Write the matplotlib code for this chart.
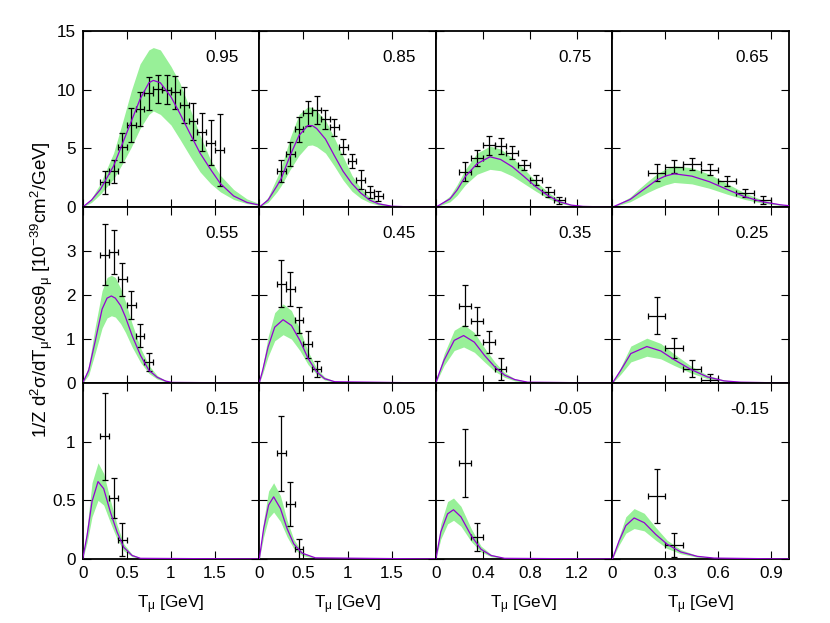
import matplotlib
matplotlib.use('Agg')
import matplotlib.pyplot as plt

plt.rcParams['font.family'] = ['Liberation Sans', 'DejaVu Sans']
plt.rcParams['mathtext.fontset'] = 'custom'
plt.rcParams['mathtext.rm'] = 'Liberation Sans'
plt.rcParams['mathtext.it'] = 'Liberation Sans'
plt.rcParams['font.size'] = 12.3

# cos(theta_mu) bin centres, one per panel
cos_labels = ['0.95', '0.85', '0.75', '0.65',
              '0.55', '0.45', '0.35', '0.25',
              '0.15', '0.05', '-0.05', '-0.15']

# MiniBooNE T_mu bin centres (GeV), half width of the bins
tmu_centres = [0.25, 0.35, 0.45, 0.55, 0.65, 0.75, 0.85, 0.95,
               1.05, 1.15, 1.25, 1.35, 1.45, 1.55]
bin_half = 0.05

# ---- data points (y, error) ----
data_095 = [2.1, 3.05, 5.1, 7.0, 8.4, 9.7, 10.1, 10.0, 9.8, 8.7, 7.3, 6.4, 5.5, 4.86]
err_095 = [0.95, 1.0, 1.25, 1.45, 1.45, 1.4, 1.2, 1.25, 1.4, 1.55, 1.55, 1.6, 1.95, 3.05]
data_085 = [3.05, 4.52, 6.65, 7.98, 8.3, 7.5, 6.8, 5.14, 3.9, 2.35, 1.3, 0.95]
err_085 = [0.93, 1.0, 1.07, 1.08, 1.18, 0.8, 0.7, 0.65, 0.6, 0.8, 0.5, 0.45]
data_075 = [3.01, 4.15, 5.28, 5.2, 4.63, 3.58, 2.3, 1.3, 0.6]
err_075 = [0.8, 0.68, 0.8, 0.67, 0.57, 0.43, 0.43, 0.4, 0.3]
data_065 = [2.95, 3.44, 3.64, 3.2, 2.24, 1.22, 0.6]
err_065 = [0.75, 0.54, 0.51, 0.47, 0.41, 0.36, 0.34]
data_055 = [2.92, 2.98, 2.36, 1.77, 1.08, 0.48]
err_055 = [0.69, 0.5, 0.38, 0.32, 0.26, 0.21]
data_045 = [2.26, 2.14, 1.44, 0.88, 0.32]
err_045 = [0.53, 0.39, 0.3, 0.3, 0.18]
data_035 = [1.76, 1.41, 0.93, 0.32]
err_035 = [0.46, 0.31, 0.25, 0.26]
data_025 = [1.53, 0.80, 0.33, 0.08]
err_025 = [0.42, 0.23, 0.19, 0.12]
data_015 = [1.046, 0.523, 0.164]
err_015 = [0.37, 0.17, 0.14]
data_005 = [0.90, 0.47, 0.083]
err_005 = [0.32, 0.19, 0.09]
data_m005 = [0.816, 0.19]
err_m005 = [0.29, 0.12]
data_m015 = [0.534, 0.118]
err_m015 = [0.23, 0.10]

# ---- model curves: T grid, central value, band upper, band lower ----
t_095 = [0, 0.1, 0.2, 0.35, 0.45, 0.55, 0.65, 0.75, 0.8, 0.88, 1.0, 1.1, 1.22, 1.33, 1.45, 1.56, 1.71, 1.86, 2.0]
mid_095 = [0, 0.6, 1.5, 3.5, 5.4, 7.3, 9.2, 10.6, 10.8, 10.6, 9.4, 8.0, 6.2, 4.6, 3.2, 2.0, 0.95, 0.4, 0.17]
hi_095 = [0, 0.75, 2.0, 4.6, 7.2, 9.9, 12.2, 13.4, 13.6, 13.4, 12.0, 10.6, 8.3, 6.1, 4.0, 2.7, 1.5, 0.7, 0.3]
lo_095 = [0, 0.4, 1.1, 2.4, 3.7, 5.1, 6.7, 7.9, 8.2, 7.9, 7.0, 5.8, 4.3, 3.0, 2.0, 1.3, 0.65, 0.3, 0.15]

t_085 = [0, 0.1, 0.2, 0.25, 0.35, 0.45, 0.55, 0.6, 0.65, 0.75, 0.85, 0.95, 1.05, 1.15, 1.25, 1.35, 1.5, 1.7, 2.0]
mid_085 = [0, 0.6, 1.8, 2.45, 4.4, 6.1, 6.95, 6.95, 6.7, 5.8, 4.4, 3.05, 2.0, 1.2, 0.6, 0.28, 0.08, 0.02, 0]
hi_085 = [0, 0.85, 2.5, 3.4, 5.9, 7.9, 8.55, 8.5, 8.2, 7.4, 5.9, 4.3, 2.7, 1.6, 0.85, 0.4, 0.12, 0.03, 0]
lo_085 = [0, 0.4, 1.3, 1.85, 3.2, 4.4, 5.25, 5.3, 5.15, 4.6, 3.5, 2.3, 1.35, 0.75, 0.38, 0.17, 0.05, 0.01, 0]

t_075 = [0, 0.12, 0.18, 0.25, 0.35, 0.46, 0.55, 0.65, 0.75, 0.85, 0.95, 1.05, 1.15, 1.25, 1.5]
mid_075 = [0, 0.7, 1.45, 2.6, 3.7, 4.29, 4.06, 3.44, 2.6, 1.73, 1.0, 0.45, 0.17, 0.06, 0]
hi_075 = [0, 0.95, 1.9, 3.2, 4.6, 5.2, 4.95, 4.2, 3.25, 2.2, 1.3, 0.6, 0.22, 0.06, 0]
lo_075 = [0, 0.45, 1.0, 1.9, 2.8, 3.22, 3.1, 2.65, 2.0, 1.35, 0.75, 0.33, 0.12, 0.04, 0]

t_065 = [0, 0.1, 0.15, 0.2, 0.25, 0.3, 0.35, 0.45, 0.55, 0.65, 0.75, 0.85, 0.95, 1.0]
mid_065 = [0, 0.65, 1.2, 1.75, 2.3, 2.65, 2.84, 2.64, 2.16, 1.5, 0.88, 0.45, 0.2, 0.12]
hi_065 = [0, 0.85, 1.55, 2.2, 2.8, 3.25, 3.52, 3.35, 2.8, 2.0, 1.2, 0.6, 0.25, 0.15]
lo_065 = [0, 0.45, 0.85, 1.25, 1.6, 1.9, 2.1, 1.98, 1.6, 1.1, 0.65, 0.33, 0.14, 0.08]

t_055 = [0, 0.068, 0.144, 0.22, 0.276, 0.325, 0.37, 0.43, 0.485, 0.56, 0.655, 0.75, 0.845, 0.94, 1.01, 2.0]
mid_055 = [0, 0.29, 0.97, 1.68, 1.93, 1.98, 1.93, 1.76, 1.5, 1.08, 0.63, 0.29, 0.13, 0.045, 0.015, 0]
hi_055 = [0, 0.4, 1.3, 2.1, 2.4, 2.45, 2.4, 2.15, 1.85, 1.35, 0.8, 0.4, 0.17, 0.06, 0.02, 0]
lo_055 = [0, 0.18, 0.7, 1.25, 1.48, 1.53, 1.5, 1.35, 1.15, 0.82, 0.47, 0.22, 0.09, 0.03, 0.01, 0]

t_045 = [0, 0.04, 0.1, 0.175, 0.27, 0.364, 0.46, 0.553, 0.648, 0.74, 0.856, 2.0]
mid_045 = [0, 0.3, 0.82, 1.27, 1.44, 1.31, 0.97, 0.56, 0.26, 0.1, 0.03, 0]
hi_045 = [0, 0.4, 1.05, 1.6, 1.8, 1.65, 1.22, 0.72, 0.34, 0.14, 0.04, 0]
lo_045 = [0, 0.22, 0.6, 0.96, 1.1, 1.0, 0.74, 0.42, 0.2, 0.07, 0.02, 0]

t_035 = [0, 0.028, 0.07, 0.156, 0.236, 0.327, 0.413, 0.5, 0.584, 0.67, 0.78, 1.5]
mid_035 = [0, 0.22, 0.52, 0.97, 1.08, 0.93, 0.63, 0.37, 0.18, 0.08, 0.02, 0]
hi_035 = [0, 0.28, 0.66, 1.2, 1.33, 1.15, 0.8, 0.48, 0.24, 0.1, 0.03, 0]
lo_035 = [0, 0.16, 0.4, 0.74, 0.82, 0.7, 0.48, 0.27, 0.13, 0.05, 0.01, 0]

t_025 = [0, 0.047, 0.104, 0.195, 0.274, 0.35, 0.444, 0.538, 0.632, 0.727, 1.0]
mid_025 = [0, 0.29, 0.67, 0.83, 0.73, 0.53, 0.31, 0.14, 0.05, 0.02, 0]
hi_025 = [0, 0.36, 0.84, 1.02, 0.9, 0.66, 0.39, 0.18, 0.07, 0.02, 0]
lo_025 = [0, 0.2, 0.48, 0.61, 0.55, 0.4, 0.23, 0.1, 0.04, 0.01, 0]

t_015 = [0, 0.05, 0.106, 0.174, 0.238, 0.314, 0.39, 0.465, 0.56, 0.655, 2.0]
mid_015 = [0, 0.2, 0.49, 0.66, 0.6, 0.4, 0.23, 0.1, 0.03, 0.006, 0]
hi_015 = [0, 0.27, 0.65, 0.82, 0.73, 0.5, 0.29, 0.13, 0.04, 0.01, 0]
lo_015 = [0, 0.14, 0.36, 0.5, 0.46, 0.31, 0.17, 0.07, 0.02, 0.004, 0]

t_005 = [0, 0.05, 0.106, 0.163, 0.24, 0.315, 0.39, 0.485, 0.636, 2.0]
mid_005 = [0, 0.26, 0.46, 0.53, 0.43, 0.26, 0.13, 0.05, 0.01, 0]
hi_005 = [0, 0.33, 0.58, 0.65, 0.54, 0.33, 0.17, 0.06, 0.01, 0]
lo_005 = [0, 0.19, 0.35, 0.40, 0.32, 0.19, 0.09, 0.03, 0.005, 0]

t_m005 = [0, 0.042, 0.1, 0.15, 0.213, 0.3, 0.384, 0.47, 0.584, 1.5]
mid_m005 = [0, 0.23, 0.385, 0.42, 0.36, 0.2, 0.083, 0.03, 0.006, 0]
hi_m005 = [0, 0.3, 0.49, 0.52, 0.45, 0.26, 0.11, 0.04, 0.008, 0]
lo_m005 = [0, 0.17, 0.3, 0.33, 0.28, 0.15, 0.06, 0.02, 0.004, 0]

t_m015 = [0, 0.038, 0.076, 0.123, 0.18, 0.245, 0.31, 0.387, 0.48, 0.576, 1.0]
mid_m015 = [0, 0.155, 0.285, 0.35, 0.31, 0.21, 0.126, 0.06, 0.023, 0.008, 0]
hi_m015 = [0, 0.19, 0.36, 0.43, 0.39, 0.27, 0.16, 0.08, 0.03, 0.01, 0]
lo_m015 = [0, 0.12, 0.22, 0.26, 0.24, 0.16, 0.09, 0.045, 0.015, 0.005, 0]

# axis ranges / ticks per column and row
xmax_cols = [2.0, 2.0, 1.5, 1.0]
xticks_cols = [[0, 0.5, 1, 1.5], [0, 0.5, 1, 1.5], [0, 0.4, 0.8, 1.2], [0, 0.3, 0.6, 0.9]]
ymax_rows = [15, 4, 1.5]
yticks_rows = [[0, 5, 10, 15], [0, 1, 2, 3], [0, 0.5, 1]]

panels = [
    (data_095, err_095, t_095, mid_095, hi_095, lo_095),
    (data_085, err_085, t_085, mid_085, hi_085, lo_085),
    (data_075, err_075, t_075, mid_075, hi_075, lo_075),
    (data_065, err_065, t_065, mid_065, hi_065, lo_065),
    (data_055, err_055, t_055, mid_055, hi_055, lo_055),
    (data_045, err_045, t_045, mid_045, hi_045, lo_045),
    (data_035, err_035, t_035, mid_035, hi_035, lo_035),
    (data_025, err_025, t_025, mid_025, hi_025, lo_025),
    (data_015, err_015, t_015, mid_015, hi_015, lo_015),
    (data_005, err_005, t_005, mid_005, hi_005, lo_005),
    (data_m005, err_m005, t_m005, mid_m005, hi_m005, lo_m005),
    (data_m015, err_m015, t_m015, mid_m015, hi_m015, lo_m015),
]

band_col = '#98f098'
line_col = '#9400d3'

fig, axes = plt.subplots(3, 4, figsize=(8.3, 6.23), dpi=100)
fig.subplots_adjust(left=0.0996, right=0.9506, top=0.950, bottom=0.1027,
                    wspace=0, hspace=0)

for i, (y, yerr, t, mid, hi, lo) in enumerate(panels):
    r, c = divmod(i, 4)
    ax = axes[r, c]
    ax.fill_between(t, lo, hi, color=band_col, lw=0, zorder=1)
    ax.plot(t, mid, color=line_col, lw=0.9, zorder=3)
    ax.errorbar(tmu_centres[:len(y)], y, xerr=bin_half, yerr=yerr,
                fmt='none', ecolor='black', elinewidth=0.9,
                capsize=2.4, capthick=0.9, zorder=2)

    ax.set_xlim(0, xmax_cols[c])
    ax.set_ylim(0, ymax_rows[r])
    ax.set_xticks(xticks_cols[c])
    ax.set_yticks(yticks_rows[r])
    ax.set_xticklabels(['%g' % v for v in xticks_cols[c]])
    ax.set_yticklabels(['%g' % v for v in yticks_rows[r]])
    ax.tick_params(direction='in', top=True, right=True, length=5.5,
                   width=0.8, pad=5, labelsize=12.3)
    if c != 0:
        ax.tick_params(labelleft=False)
    if r != 2:
        ax.tick_params(labelbottom=False)
    else:
        ax.set_xlabel('T$_{μ}$ [GeV]', fontsize=12.3, labelpad=9)
    for sp in ax.spines.values():
        sp.set_linewidth(1.3)

    ax.text(0.885, 0.848, cos_labels[i], transform=ax.transAxes,
            ha='right', va='center', fontsize=12.3)

fig.text(42 / 830, 1 - 290 / 623,
         '1/Z d$^{2}$σ/dT$_{μ}$/dcosθ$_{μ}$ [10$^{-39}$cm$^{2}$/GeV]',
         rotation=90, ha='center', va='center', fontsize=13.5)

fig.savefig('out.png', dpi=100)
